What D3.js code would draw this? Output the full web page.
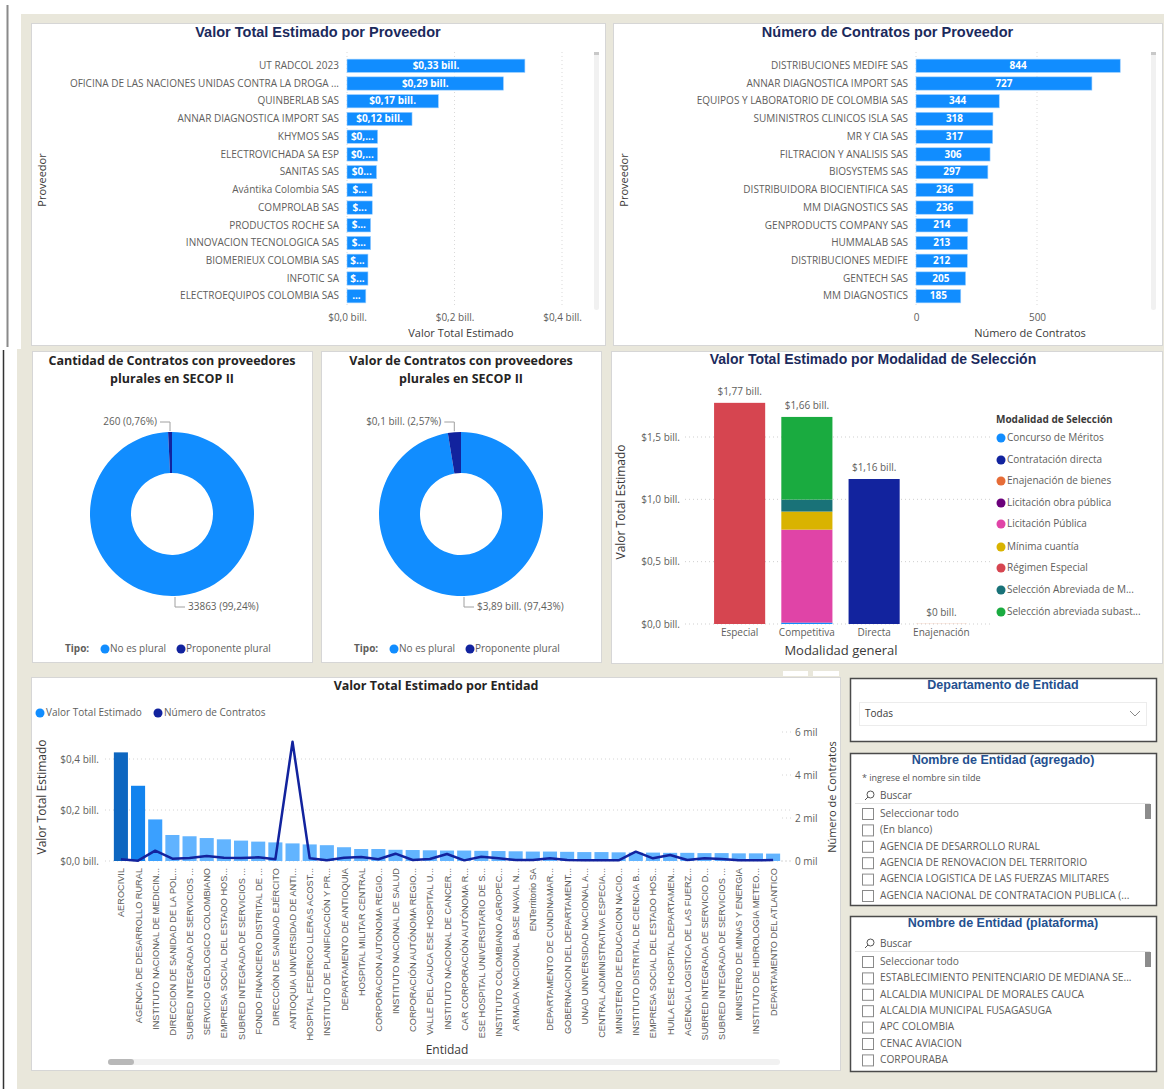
<!DOCTYPE html>
<html>
<head>
<meta charset="utf-8">
<script src="https://cdn.jsdelivr.net/npm/d3@7"></script>
<style>
  body { margin: 0; background: #fff; }
  svg { display: block; font-family: "Open Sans", "Noto Sans", sans-serif; }
</style>
</head>
<body>
<svg id="tablero" width="1164" height="1089"></svg>
<script>
// ---- datos ----
var provNombres = ['UT RADCOL 2023', 'OFICINA DE LAS NACIONES UNIDAS CONTRA LA DROGA ...', 'QUINBERLAB SAS',
  'ANNAR DIAGNOSTICA IMPORT SAS', 'KHYMOS SAS', 'ELECTROVICHADA SA ESP', 'SANITAS SAS', 'Avántika Colombia SAS',
  'COMPROLAB SAS', 'PRODUCTOS ROCHE SA', 'INNOVACION TECNOLOGICA SAS', 'BIOMERIEUX COLOMBIA SAS', 'INFOTIC SA',
  'ELECTROEQUIPOS COLOMBIA SAS'];
var provValor = [0.331, 0.291, 0.170, 0.121, 0.057, 0.057, 0.055, 0.047, 0.047, 0.044, 0.044, 0.039, 0.039, 0.035];
var provEtiquetas = ['$0,33 bill.', '$0,29 bill.', '$0,17 bill.', '$0,12 bill.', '$0,...', '$0,...', '$0...',
  '$...', '$...', '$...', '$...', '$...', '$...', '...'];
var provTicks = [0, 0.2, 0.4];

var contNombres = ['DISTRIBUCIONES MEDIFE SAS', 'ANNAR DIAGNOSTICA IMPORT SAS', 'EQUIPOS Y LABORATORIO DE COLOMBIA SAS',
  'SUMINISTROS CLINICOS ISLA SAS', 'MR Y CIA SAS', 'FILTRACION Y ANALISIS SAS', 'BIOSYSTEMS SAS',
  'DISTRIBUIDORA BIOCIENTIFICA SAS', 'MM DIAGNOSTICS SAS', 'GENPRODUCTS COMPANY SAS', 'HUMMALAB SAS',
  'DISTRIBUCIONES MEDIFE', 'GENTECH SAS', 'MM DIAGNOSTICS'];
var contValor = [844, 727, 344, 318, 317, 306, 297, 236, 236, 214, 213, 212, 205, 185];
var contTicks = [0, 500];

var tipos = ['No es plural', 'Proponente plural'];
var cantidadTipo = [33863, 260];
var cantidadEtiquetas = ['33863 (99,24%)', '260 (0,76%)'];
var valorTipo = [3.89, 0.1026];
var valorEtiquetas = ['$3,89 bill. (97,43%)', '$0,1 bill. (2,57%)'];

var modalidadGeneral = ['Especial', 'Competitiva', 'Directa', 'Enajenación'];
var modalidades = ['Concurso de Méritos', 'Contratación directa', 'Enajenación de bienes', 'Licitación obra pública',
  'Licitación Pública', 'Mínima cuantía', 'Régimen Especial', 'Selección Abreviada de M...', 'Selección abreviada subast...'];
// filas: modalidad de selección, columnas: modalidad general
var modalidadValor = [
  [0, 0.010, 0, 0],
  [0, 0, 1.163, 0],
  [0, 0, 0, 0.001],
  [0, 0.002, 0, 0],
  [0, 0.745, 0, 0],
  [0, 0.145, 0, 0],
  [1.774, 0, 0, 0],
  [0, 0.096, 0, 0],
  [0, 0.663, 0, 0]
];
var modalidadTotales = ['$1,77 bill.', '$1,66 bill.', '$1,16 bill.', '$0 bill.'];
var modalidadTicks = [0, 0.5, 1.0, 1.5];
var modalidadColores = ['#118DFF', '#12239E', '#E66C37', '#6B007B', '#E044A7', '#D9B300', '#D64550', '#197278', '#1AAB40'];

var entidades = ['AEROCIVIL', 'AGENCIA DE DESARROLLO RURAL', 'INSTITUTO NACIONAL DE MEDICIN...', 'DIRECCION DE SANIDAD DE LA POL...',
  'SUBRED INTEGRADA DE SERVICIOS ...', 'SERVICIO GEOLOGICO COLOMBIANO', 'EMPRESA SOCIAL DEL ESTADO HOS...',
  'SUBRED INTEGRADA DE SERVICIOS ... ', 'FONDO FINANCIERO DISTRITAL DE ...', 'DIRECCIÓN DE SANIDAD EJÉRCITO',
  'ANTIOQUIA UNIVERSIDAD DE ANTI...', 'HOSPITAL FEDERICO LLERAS ACOST...', 'INSTITUTO DE PLANIFICACIÓN Y PR...',
  'DEPARTAMENTO DE ANTIOQUIA', 'HOSPITAL MILITAR CENTRAL', 'CORPORACION AUTONOMA REGIO...', 'INSTITUTO NACIONAL DE SALUD',
  'CORPORACIÓN AUTÓNOMA REGIO...', 'VALLE DEL CAUCA ESE HOSPITAL U...', 'INSTITUTO NACIONAL DE CANCER...',
  'CAR CORPORACIÓN AUTÓNOMA R...', 'ESE HOSPITAL UNIVERSITARIO DE S...', 'INSTITUTO COLOMBIANO AGROPEC...',
  'ARMADA NACIONAL BASE NAVAL N...', 'ENTerritorio SA', 'DEPARTAMENTO DE CUNDINAMAR...', 'GOBERNACION DEL DEPARTAMENT...',
  'UNAD UNIVERSIDAD NACIONAL A...', 'CENTRAL ADMINISTRATIVA ESPECIA...', 'MINISTERIO DE EDUCACION NACIO...',
  'INSTITUTO DISTRITAL DE CIENCIA B...', 'EMPRESA SOCIAL DEL ESTADO HOS... ', 'HUILA ESE HOSPITAL DEPARTAMEN...',
  'AGENCIA LOGISTICA DE LAS FUERZ...', 'SUBRED INTEGRADA DE SERVICIO D...', 'SUBRED INTEGRADA DE SERVICIOS ...  ',
  'MINISTERIO DE MINAS Y ENERGIA', 'INSTITUTO DE HIDROLOGIA METEO...', 'DEPARTAMENTO DEL ATLANTICO'];
var entValor = [0.426, 0.295, 0.163, 0.102, 0.097, 0.090, 0.085, 0.080, 0.076, 0.073, 0.069, 0.065, 0.062, 0.054,
  0.047, 0.047, 0.044, 0.043, 0.042, 0.041, 0.041, 0.040, 0.039, 0.038, 0.037, 0.037, 0.036, 0.035, 0.035, 0.034,
  0.033, 0.033, 0.032, 0.032, 0.031, 0.031, 0.030, 0.030, 0.029];
var entContratos = [80, 15, 480, 110, 140, 230, 155, 140, 170, 80, 5550, 125, 30, 155, 185, 80, 340, 45, 95, 325,
  30, 200, 125, 45, 45, 125, 45, 30, 30, 30, 435, 125, 280, 45, 125, 95, 30, 30, 45];
var entTicksValor = [0, 0.2, 0.4];
var entTicksContratos = [0, 2000, 4000, 6000];

var listaAgregado = ['Seleccionar todo', '(En blanco)', 'AGENCIA DE DESARROLLO RURAL', 'AGENCIA DE RENOVACION DEL TERRITORIO',
  'AGENCIA LOGISTICA DE LAS FUERZAS MILITARES', 'AGENCIA NACIONAL DE CONTRATACION PUBLICA (...'];
var listaPlataforma = ['Seleccionar todo', 'ESTABLECIMIENTO PENITENCIARIO DE MEDIANA SE...', 'ALCALDIA MUNICIPAL DE MORALES CAUCA',
  'ALCALDIA MUNICIPAL FUSAGASUGA', 'APC COLOMBIA', 'CENAC AVIACION', 'CORPOURABA'];

// ---- estilos ----
var AZUL = '#118DFF', AZUL_OSC = '#12239E', GRIS = '#605E5C', TITULO = '#1B2A5C', FONDO = '#E9E7DB';
var ARIAL = '"Liberation Sans", Arial, sans-serif';

var svg = d3.select('#tablero');

// fondo y bordes de página
svg.append('rect').attr('width', 1164).attr('height', 1089).attr('fill', '#fff');
svg.append('rect').attr('x', 21).attr('y', 14).attr('width', 1143).attr('height', 336).attr('fill', FONDO);
svg.append('rect').attr('x', 17).attr('y', 349).attr('width', 1147).attr('height', 740).attr('fill', FONDO);
svg.append('line').attr('x1', 7.5).attr('x2', 7.5).attr('y1', 5).attr('y2', 347).attr('stroke', '#8a8a8a').attr('stroke-width', 2);
svg.append('line').attr('x1', 3.5).attr('x2', 3.5).attr('y1', 350).attr('y2', 1089).attr('stroke', '#333').attr('stroke-width', 1.5);
svg.append('rect').attr('x', 783).attr('y', 671).attr('width', 25).attr('height', 5).attr('fill', '#fff');
svg.append('rect').attr('x', 813).attr('y', 671).attr('width', 26).attr('height', 5).attr('fill', '#fff');

function panel(x, y, w, h, borde, ancho) {
  svg.append('rect').attr('x', x + 0.5).attr('y', y + 0.5).attr('width', w).attr('height', h)
    .attr('fill', '#fff').attr('stroke', borde || '#d6d6d6').attr('stroke-width', ancho || 1);
}

function texto(g, x, y, t, o) {
  o = o || {};
  var el = g.append('text').attr('x', x).attr('y', y).text(t)
    .attr('font-size', o.size || 10)
    .attr('fill', o.fill || GRIS)
    .attr('font-weight', o.weight || 'normal')
    .attr('text-anchor', o.anchor || 'start')
    .attr('dominant-baseline', 'middle');
  if (o.family) el.attr('font-family', o.family);
  return el;
}

function tituloY(x, y, t, size) {
  svg.append('text').attr('transform', 'translate(' + x + ',' + y + ') rotate(-90)')
    .attr('text-anchor', 'middle').attr('dominant-baseline', 'middle')
    .attr('font-size', size || 11).attr('fill', '#3b3a39').text(t);
}

// ---- barras horizontales ----
function barrasH(cfg) {
  panel(cfg.px, cfg.py, cfg.pw, cfg.ph);
  texto(svg, cfg.px + cfg.pw / 2, 33, cfg.titulo, {size: 14.5, weight: 'bold', fill: TITULO, anchor: 'middle', family: ARIAL});

  var x = d3.scaleLinear().domain(cfg.dominio).range(cfg.rangoX);
  var y = d3.scaleBand().domain(cfg.nombres).range([57, 305]).paddingInner(0.25).paddingOuter(0.12);

  var rejilla = svg.append('g');
  rejilla.selectAll('line').data(cfg.ticks).join('line')
    .attr('x1', function (d) { return x(d); }).attr('x2', function (d) { return x(d); })
    .attr('y1', 52).attr('y2', 308)
    .attr('stroke', '#d9d9d9').attr('stroke-dasharray', '1,3');

  var g = svg.append('g');
  g.selectAll('rect').data(cfg.valores).join('rect')
    .attr('x', x(0)).attr('y', function (d, i) { return y(cfg.nombres[i]); })
    .attr('width', function (d) { return x(d) - x(0); })
    .attr('height', y.bandwidth())
    .attr('fill', AZUL).attr('stroke', '#9fd0ff').attr('stroke-width', 0.6);

  g.selectAll('text.v').data(cfg.valores).join('text').attr('class', 'v')
    .attr('x', function (d) { return (x(d) + x(0)) / 2; })
    .attr('y', function (d, i) { return y(cfg.nombres[i]) + y.bandwidth() / 2 + 0.5; })
    .attr('text-anchor', 'middle').attr('dominant-baseline', 'middle')
    .attr('font-size', 10).attr('font-weight', 'bold').attr('fill', '#fff')
    .text(function (d, i) { return cfg.etiquetas[i]; });

  var ejeY = svg.append('g').attr('transform', 'translate(' + (x(0) - 2) + ',0)')
    .call(d3.axisLeft(y).tickSize(0).tickPadding(6));
  ejeY.select('.domain').remove();
  ejeY.attr('font-family', null);
  ejeY.selectAll('text').attr('font-size', 10).attr('fill', GRIS);

  var ejeX = svg.append('g').attr('transform', 'translate(0,312)')
    .call(d3.axisBottom(x).tickValues(cfg.ticks).tickSize(0).tickPadding(2).tickFormat(cfg.formato));
  ejeX.select('.domain').remove();
  ejeX.attr('font-family', null);
  ejeX.selectAll('text').attr('font-size', 10).attr('fill', GRIS);

  texto(svg, cfg.tituloX[0], 334, cfg.tituloX[1], {size: 11, fill: '#3b3a39', anchor: 'middle'});
  tituloY(cfg.px + 12, 180, 'Proveedor', 11);

  // barra de desplazamiento
  svg.append('rect').attr('x', cfg.px + cfg.pw - 11).attr('y', 52).attr('width', 5).attr('height', 258)
    .attr('rx', 2.5).attr('fill', '#f1f1f1');
  svg.append('rect').attr('x', cfg.px + cfg.pw - 11).attr('y', 52).attr('width', 5).attr('height', 3).attr('fill', '#c8c8c8');
}

barrasH({
  px: 31, py: 23, pw: 574, ph: 322, titulo: 'Valor Total Estimado por Proveedor',
  nombres: provNombres, valores: provValor, etiquetas: provEtiquetas,
  dominio: [0, 0.4], rangoX: [347, 562], ticks: provTicks,
  formato: function (d) { return '$' + d3.format('.1f')(d).replace('.', ',') + ' bill.'; },
  tituloX: [461, 'Valor Total Estimado']
});

barrasH({
  px: 613, py: 23, pw: 549, ph: 322, titulo: 'Número de Contratos por Proveedor',
  nombres: contNombres, valores: contValor, etiquetas: contValor.map(String),
  dominio: [0, 500], rangoX: [916, 1037], ticks: contTicks,
  formato: function (d) { return String(d); },
  tituloX: [1030, 'Número de Contratos']
});

// ---- anillos ----
function anillo(cfg) {
  panel(cfg.px, 351, 280, 311);
  texto(svg, cfg.px + 140, 362, cfg.titulo[0], {size: 12.5, weight: 'bold', fill: '#252423', anchor: 'middle'});
  texto(svg, cfg.px + 140, 380, cfg.titulo[1], {size: 12.5, weight: 'bold', fill: '#252423', anchor: 'middle'});

  var cx = cfg.px + 140, cy = 514;
  var pie = d3.pie().sort(null).value(function (d) { return d; });
  var arco = d3.arc().innerRadius(41).outerRadius(82);
  var g = svg.append('g').attr('transform', 'translate(' + cx + ',' + cy + ')');
  g.selectAll('path').data(pie(cfg.valores)).join('path')
    .attr('d', arco).attr('fill', function (d, i) { return i === 0 ? AZUL : AZUL_OSC; });

  // etiquetas con guías
  var pequeno = pie(cfg.valores)[1];
  var ang = (pequeno.startAngle + pequeno.endAngle) / 2;
  var sx = Math.sin(ang) * 83, sy = -Math.cos(ang) * 83;
  g.append('path').attr('d', 'M' + sx + ',' + sy + ' V' + (-92) + ' H' + (sx - 10))
    .attr('fill', 'none').attr('stroke', '#a0a0a0');
  texto(g, sx - 13, -92, cfg.etiquetas[1], {size: 10, anchor: 'end'});

  g.append('path').attr('d', 'M3,83 V93 H13').attr('fill', 'none').attr('stroke', '#a0a0a0');
  texto(g, 16, 93, cfg.etiquetas[0], {size: 10});

  // leyenda
  texto(svg, cfg.px + 33, 649, 'Tipo:', {size: 10, weight: 'bold', fill: GRIS});
  svg.append('circle').attr('cx', cfg.px + 73).attr('cy', 649).attr('r', 4.5).attr('fill', AZUL);
  texto(svg, cfg.px + 78, 649, tipos[0], {size: 10});
  svg.append('circle').attr('cx', cfg.px + 149).attr('cy', 649).attr('r', 4.5).attr('fill', AZUL_OSC);
  texto(svg, cfg.px + 154, 649, tipos[1], {size: 10});
}

anillo({px: 32, titulo: ['Cantidad de Contratos con proveedores', 'plurales en SECOP II'],
  valores: cantidadTipo, etiquetas: cantidadEtiquetas});
anillo({px: 321, titulo: ['Valor de Contratos con proveedores', 'plurales en SECOP II'],
  valores: valorTipo, etiquetas: valorEtiquetas});

// ---- modalidad de selección ----
(function () {
  panel(611, 351, 551, 312);
  texto(svg, 873, 360, 'Valor Total Estimado por Modalidad de Selección',
    {size: 14, weight: 'bold', fill: TITULO, anchor: 'middle', family: ARIAL});

  var x = d3.scaleBand().domain(modalidadGeneral).range([706, 975]).paddingInner(0.24).paddingOuter(0.12);
  var y = d3.scaleLinear().domain([0, 1.5]).range([624, 437]);

  svg.append('g').selectAll('line').data(modalidadTicks).join('line')
    .attr('x1', 685).attr('x2', 990).attr('y1', function (d) { return y(d); }).attr('y2', function (d) { return y(d); })
    .attr('stroke', '#cfcfcf').attr('stroke-dasharray', '1,3');

  var filas = modalidadGeneral.map(function (m, j) {
    var o = {general: m};
    modalidades.forEach(function (k, i) { o[k] = modalidadValor[i][j]; });
    return o;
  });
  var series = d3.stack().keys(modalidades)(filas);
  svg.append('g').selectAll('g').data(series).join('g')
    .attr('fill', function (d, i) { return modalidadColores[i]; })
    .selectAll('rect').data(function (d) { return d; }).join('rect')
    .attr('x', function (d) { return x(d.data.general); })
    .attr('y', function (d) { return y(d[1]); })
    .attr('width', x.bandwidth())
    .attr('height', function (d) { return Math.max(0, y(d[0]) - y(d[1])); });

  var totales = filas.map(function (f) { return d3.sum(modalidades, function (k) { return f[k]; }); });
  svg.append('g').selectAll('text').data(totales).join('text')
    .attr('x', function (d, i) { return x(modalidadGeneral[i]) + x.bandwidth() / 2; })
    .attr('y', function (d) { return y(d) - 11; })
    .attr('text-anchor', 'middle').attr('dominant-baseline', 'middle')
    .attr('font-size', 10).attr('fill', GRIS)
    .text(function (d, i) { return modalidadTotales[i]; });

  var ejeY = svg.append('g').attr('transform', 'translate(682,0)')
    .call(d3.axisLeft(y).tickValues(modalidadTicks).tickSize(0).tickPadding(2)
      .tickFormat(function (d) { return '$' + d3.format('.1f')(d).replace('.', ',') + ' bill.'; }));
  ejeY.select('.domain').remove();
  ejeY.attr('font-family', null);
  ejeY.selectAll('text').attr('font-size', 10).attr('fill', GRIS);

  var ejeX = svg.append('g').attr('transform', 'translate(0,628)')
    .call(d3.axisBottom(x).tickSize(0).tickPadding(1));
  ejeX.select('.domain').remove();
  ejeX.attr('font-family', null);
  ejeX.selectAll('text').attr('font-size', 10).attr('fill', GRIS);

  texto(svg, 841, 652, 'Modalidad general', {size: 13, fill: '#3b3a39', anchor: 'middle'});
  tituloY(622, 502, 'Valor Total Estimado', 12);

  texto(svg, 996, 420, 'Modalidad de Selección', {size: 10, weight: 'bold', fill: '#3b3a39'});
  var ley = svg.append('g');
  var ly = [438, 460, 481, 503, 524, 547, 568, 590, 612];
  ley.selectAll('circle').data(modalidades).join('circle')
    .attr('cx', 1001).attr('cy', function (d, i) { return ly[i]; }).attr('r', 4.5)
    .attr('fill', function (d, i) { return modalidadColores[i]; });
  ley.selectAll('text').data(modalidades).join('text')
    .attr('x', 1007).attr('y', function (d, i) { return ly[i]; })
    .attr('dominant-baseline', 'middle').attr('font-size', 10).attr('fill', GRIS)
    .text(function (d) { return d; });
})();

// ---- valor por entidad ----
(function () {
  panel(31, 677, 809, 393);
  texto(svg, 436, 687, 'Valor Total Estimado por Entidad', {size: 12.5, weight: 'bold', fill: '#252423', anchor: 'middle'});

  svg.append('circle').attr('cx', 40).attr('cy', 713).attr('r', 4.5).attr('fill', AZUL);
  texto(svg, 46, 713, 'Valor Total Estimado', {size: 10});
  svg.append('circle').attr('cx', 158).attr('cy', 713).attr('r', 4.5).attr('fill', AZUL_OSC);
  texto(svg, 164, 713, 'Número de Contratos', {size: 10});

  var x = d3.scaleBand().domain(entidades).range([113, 781]).paddingInner(0.18).paddingOuter(0.05);
  var y = d3.scaleLinear().domain([0, 0.4]).range([861, 759]);
  var y2 = d3.scaleLinear().domain([0, 6000]).range([861, 732]);
  var color = d3.scaleLinear().domain([0.10, 0.163, 0.295, 0.426])
    .range(['#62B4FF', '#3AA0FF', '#1283EE', '#0D66C0']).clamp(true);

  svg.append('g').selectAll('line').data(entTicksValor).join('line')
    .attr('x1', 105).attr('x2', 790).attr('y1', function (d) { return y(d); }).attr('y2', function (d) { return y(d); })
    .attr('stroke', '#d4d4d4').attr('stroke-dasharray', '1,3');
  svg.append('g').selectAll('line').data(entTicksContratos).join('line')
    .attr('x1', 782).attr('x2', 792).attr('y1', function (d) { return y2(d); }).attr('y2', function (d) { return y2(d); })
    .attr('stroke', '#d4d4d4').attr('stroke-dasharray', '1,3');

  svg.append('g').selectAll('rect').data(entValor).join('rect')
    .attr('x', function (d, i) { return x(entidades[i]); })
    .attr('y', function (d) { return y(d); })
    .attr('width', x.bandwidth())
    .attr('height', function (d) { return y(0) - y(d); })
    .attr('fill', function (d) { return color(d); });

  var linea = d3.line()
    .x(function (d, i) { return x(entidades[i]) + x.bandwidth() / 2; })
    .y(function (d) { return y2(d); });
  svg.append('path').datum(entContratos).attr('d', linea)
    .attr('fill', 'none').attr('stroke', AZUL_OSC).attr('stroke-width', 2.5).attr('stroke-linejoin', 'round');

  var ejeY = svg.append('g').attr('transform', 'translate(101,0)')
    .call(d3.axisLeft(y).tickValues(entTicksValor).tickSize(0).tickPadding(2)
      .tickFormat(function (d) { return '$' + d3.format('.1f')(d).replace('.', ',') + ' bill.'; }));
  ejeY.select('.domain').remove();
  ejeY.attr('font-family', null);
  ejeY.selectAll('text').attr('font-size', 10).attr('fill', GRIS);

  var ejeY2 = svg.append('g').attr('transform', 'translate(793,0)')
    .call(d3.axisRight(y2).tickValues(entTicksContratos).tickSize(0).tickPadding(2)
      .tickFormat(function (d) { return (d / 1000) + ' mil'; }));
  ejeY2.select('.domain').remove();
  ejeY2.attr('font-family', null);
  ejeY2.selectAll('text').attr('font-size', 10).attr('fill', GRIS);

  svg.append('g').selectAll('text').data(entidades).join('text')
    .attr('transform', function (d) { return 'translate(' + (x(d) + x.bandwidth() / 2 + 3.5) + ',868) rotate(-90)'; })
    .attr('text-anchor', 'end').attr('font-size', 9.2).attr('fill', GRIS)
    .attr('font-family', ARIAL)
    .text(function (d) { return d.trim(); });

  texto(svg, 447, 1051, 'Entidad', {size: 12, fill: '#3b3a39', anchor: 'middle'});
  tituloY(43, 797, 'Valor Total Estimado', 12);
  tituloY(833, 797, 'Número de Contratos', 11);

  svg.append('rect').attr('x', 108).attr('y', 1059).attr('width', 672).attr('height', 6).attr('rx', 3).attr('fill', '#f1f1f1');
  svg.append('rect').attr('x', 108).attr('y', 1059).attr('width', 26).attr('height', 6).attr('rx', 3).attr('fill', '#b8b8b8');
})();

// ---- segmentadores ----
var AZUL_SEG = '#24508F';
panel(850, 678, 306, 63, '#4a4a4a', 1.5);
texto(svg, 1003, 686, 'Departamento de Entidad', {size: 12.5, weight: 'bold', fill: AZUL_SEG, anchor: 'middle', family: ARIAL});
svg.append('rect').attr('x', 859.5).attr('y', 702.5).attr('width', 287).attr('height', 23).attr('fill', '#fff').attr('stroke', '#ececec');
texto(svg, 865, 714, 'Todas', {size: 10, fill: '#3b3a39'});
svg.append('path').attr('d', 'M1130,711 L1135,716 L1140,711').attr('fill', 'none').attr('stroke', '#8a8a8a');

function lista(y0, titulo, items, nota) {
  var alto = nota ? 152 : 155;
  panel(850, y0, 306, alto, '#4a4a4a', 1.5);
  texto(svg, 1003, y0 + 8, titulo, {size: 12.5, weight: 'bold', fill: AZUL_SEG, anchor: 'middle', family: ARIAL});
  var yb = y0 + 28;
  if (nota) { texto(svg, 862, y0 + 26, nota, {size: 9, fill: '#555'}); yb = y0 + 43; }
  svg.append('circle').attr('cx', 870.5).attr('cy', yb - 1.5).attr('r', 3.5).attr('fill', 'none').attr('stroke', '#555');
  svg.append('line').attr('x1', 868).attr('y1', yb + 1).attr('x2', 865).attr('y2', yb + 4).attr('stroke', '#555');
  texto(svg, 880, yb, 'Buscar', {size: 10, fill: '#555'});
  svg.append('line').attr('x1', 855).attr('x2', 1150).attr('y1', yb + 7.5).attr('y2', yb + 7.5).attr('stroke', '#e3e3e3');
  svg.append('rect').attr('x', 1145).attr('y', yb + 8).attr('width', 6).attr('height', 15).attr('fill', '#8c8c8c');
  var g = svg.append('g');
  g.selectAll('rect').data(items).join('rect')
    .attr('x', 862.5).attr('y', function (d, i) { return yb + 12.5 + i * 16.4; })
    .attr('width', 11).attr('height', 11).attr('fill', '#fff').attr('stroke', '#8a8a8a');
  g.selectAll('text').data(items).join('text')
    .attr('x', 880).attr('y', function (d, i) { return yb + 18 + i * 16.4; })
    .attr('dominant-baseline', 'middle').attr('font-size', 10.2).attr('fill', GRIS)
    .text(function (d) { return d; });
}
lista(753, 'Nombre de Entidad (agregado)', listaAgregado, '* ingrese el nombre sin tilde');
lista(916, 'Nombre de Entidad (plataforma)', listaPlataforma);
</script>
</body>
</html>
